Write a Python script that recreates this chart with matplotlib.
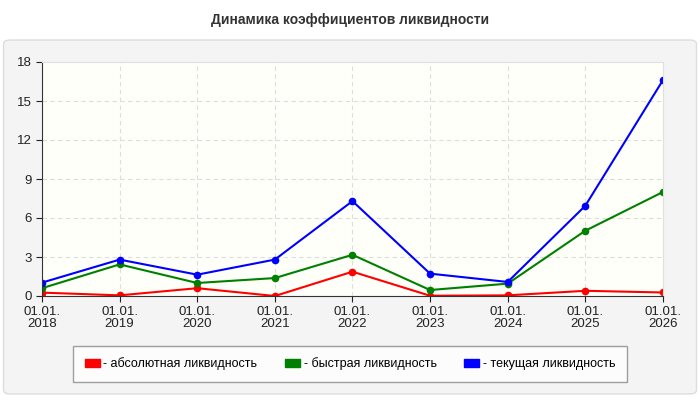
import matplotlib
matplotlib.use("Agg")
import matplotlib.pyplot as plt
from matplotlib.patches import FancyBboxPatch, Rectangle

plt.rcParams['font.family'] = ['Liberation Sans', 'DejaVu Sans']

labels = ["01.01.\n2018","01.01.\n2019","01.01.\n2020","01.01.\n2021","01.01.\n2022","01.01.\n2023","01.01.\n2024","01.01.\n2025","01.01.\n2026"]
absolute = [0.26, 0.05, 0.6, 0.0, 1.87, 0.02, 0.05, 0.4, 0.27]
quick = [0.6, 2.43, 1.0, 1.38, 3.17, 0.46, 0.95, 5.02, 8.0]
current = [1.03, 2.8, 1.64, 2.8, 7.3, 1.72, 1.08, 6.94, 16.6]
names = ["- абсолютная ликвидность", "- быстрая ликвидность", "- текущая ликвидность"]
colors = ["#ff0000", "#008000", "#0000ff"]

fig = plt.figure(figsize=(7, 4), dpi=100)
fig.patch.set_facecolor("white")
bg = FancyBboxPatch((0.005, 0.015), 0.99, 0.885, boxstyle="round,pad=0,rounding_size=0.01",
                    transform=fig.transFigure, facecolor="#f4f4f4", edgecolor="#dddddd", lw=1, zorder=-10)
fig.patches.append(bg)
fig.text(0.5, 0.95, "Динамика коэффициентов ликвидности", ha="center", va="center",
         fontsize=10, fontweight="bold", color="#333333")
ax = fig.add_axes([0.06, 0.26, 0.887, 0.585])
ax.set_facecolor("#fffffa")
x = list(range(len(labels)))
for vals, c, n in zip([absolute, quick, current], colors, names):
    ax.plot(x, vals, color=c, lw=1.5, marker="o", ms=4.5, label=n)
ax.set_xlim(0, 8)
ax.set_ylim(0, 18)
ax.set_yticks([0, 3, 6, 9, 12, 15, 18])
ax.set_xticks(x)
ax.set_xticklabels(labels, linespacing=0.95)
ax.tick_params(labelsize=9.5, colors="#222222", length=4)
ax.grid(True, ls=(0, (4, 3)), color="#dddddd", lw=0.8)
for s in ["top", "right"]:
    ax.spines[s].set_color("#e0e0e0")
for s in ["left", "bottom"]:
    ax.spines[s].set_color("#333333")
handles = [Rectangle((0, 0), 1, 1, facecolor=c, edgecolor=c) for c in colors]
leg = fig.legend(handles, names, loc="center", bbox_to_anchor=(0.5, 0.09), ncol=3, fontsize=9,
                 frameon=True, fancybox=False, edgecolor="#888888", handlelength=1.2,
                 handleheight=0.7, columnspacing=2.2, borderpad=0.9, handletextpad=0.3)
leg.get_frame().set_facecolor("white")
fig.savefig("out.png", dpi=100)
